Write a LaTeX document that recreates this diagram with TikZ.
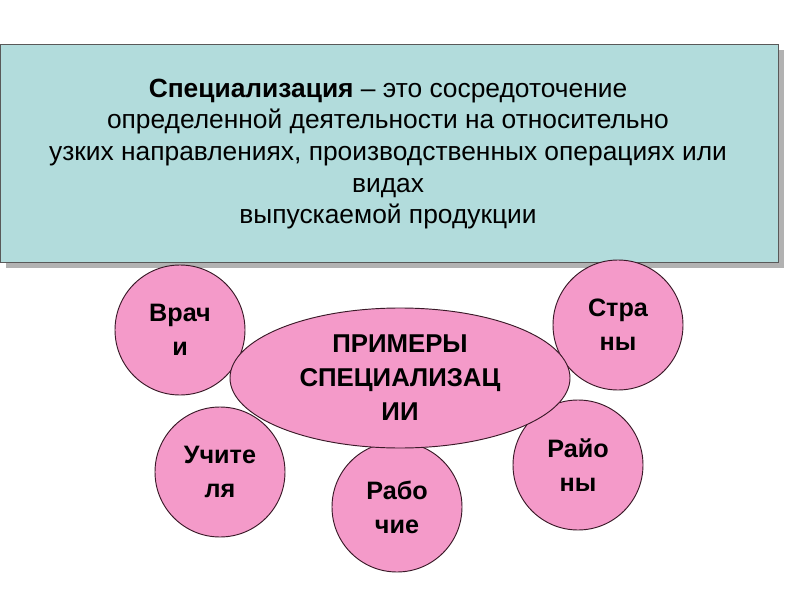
\documentclass[tikz,border=0pt]{standalone}
\usepackage{fontspec}
\setmainfont{Liberation Sans}
\usetikzlibrary{shapes.geometric}
\definecolor{boxfill}{HTML}{B2DCDC}
\definecolor{pinkfill}{HTML}{F49AC9}
\definecolor{rimcol}{HTML}{3A1A28}
\tikzset{
  bubble/.style={circle, draw=rimcol, thick, fill=pinkfill, minimum size=130*0.3mm,
    align=center, font=\fontsize{21.5}{29}\selectfont\bfseries, inner sep=0pt}
}
\begin{document}
\begin{tikzpicture}[x=0.3mm,y=-0.3mm]
    \useasboundingbox (0,0) rectangle (800,600);

    % Definition box
    \fill[gray!60] (6,50) rectangle (784,268);
    \draw[gray!70!black, fill=boxfill] (0,44) rectangle (778,262);
    \node[align=center, font=\fontsize{22.5}{27}\selectfont] (defn) at (388,154)
      {\textbf{Специализация} – это сосредоточение\\
       определенной деятельности на относительно\\
       узких направлениях, производственных операциях или\\
       видах\\
       выпускаемой продукции};

    % Examples
    \node[bubble] (vrachi) at (180,330) {Врач\\и};
    \node[bubble] (strany) at (618,325) {Стра\\ны};
    \node[bubble] (uchitelya) at (220,472) {Учите\\ля};
    \node[bubble] (raiony) at (578,465) {Райо\\ны};
    \node[bubble] (rabochie) at (397,507) {Рабо\\чие};
    \node[ellipse, draw=rimcol, thick, fill=pinkfill, minimum width=340*0.3mm,
      minimum height=140*0.3mm, align=center, inner sep=0pt,
      font=\fontsize{22}{29}\selectfont\bfseries] (primery) at (400,378)
      {ПРИМЕРЫ\\СПЕЦИАЛИЗАЦ\\ИИ};
\end{tikzpicture}
\end{document}
